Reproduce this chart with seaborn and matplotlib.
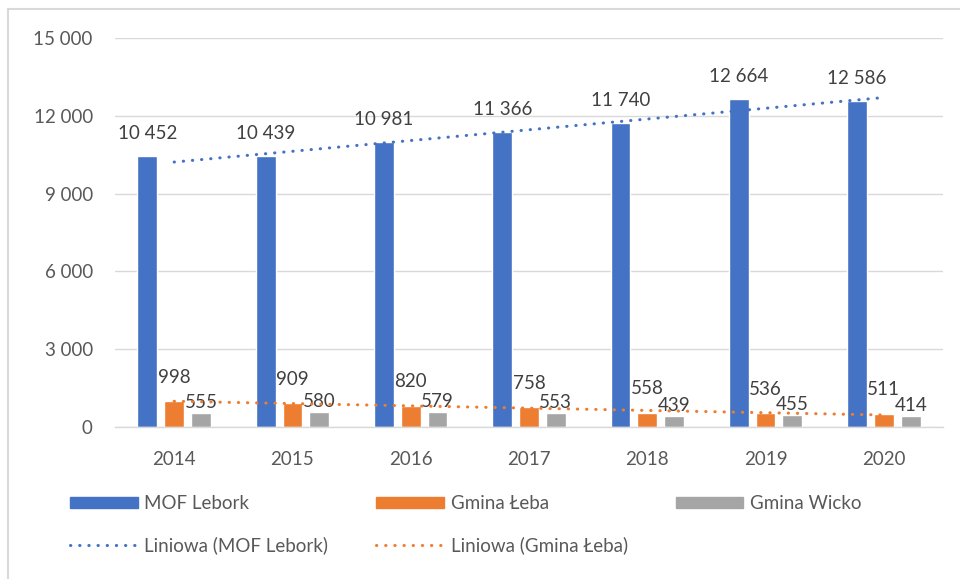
import numpy as np
import pandas as pd
import matplotlib
matplotlib.use("Agg")
import matplotlib.pyplot as plt
from matplotlib.lines import Line2D
from matplotlib.patches import Patch
import seaborn as sns

years = ["2014", "2015", "2016", "2017", "2018", "2019", "2020"]
mof_lebork = [10452, 10439, 10981, 11366, 11740, 12664, 12586]
gmina_leba = [998, 909, 820, 758, 558, 536, 511]
gmina_wicko = [555, 580, 579, 553, 439, 455, 414]
series_names = ["MOF Lebork", "Gmina Łeba", "Gmina Wicko"]
trend_names = ["Liniowa (MOF Lebork)", "Liniowa (Gmina Łeba)"]
y_ticks = [0, 3000, 6000, 9000, 12000, 15000]

colors = ["#4472C4", "#ED7D31", "#A5A5A5"]
text_col = "#595959"
label_col = "#404040"
grid_col = "#D9D9D9"
FS = 13.5

sns.set_theme(style="white")
plt.rcParams["font.family"] = ["Lato", "DejaVu Sans"]

df = pd.DataFrame({
    "year": years * 3,
    "value": mof_lebork + gmina_leba + gmina_wicko,
    "series": sum([[s] * len(years) for s in series_names], []),
})

fig = plt.figure(figsize=(9.6, 5.79), dpi=100)
ax = fig.add_axes([115 / 960, 1 - 427 / 579, (943 - 115) / 960, (427 - 38) / 579])

sns.barplot(data=df, x="year", y="value", hue="series", palette=colors,
            width=0.68, gap=0.26, ax=ax, legend=False, errorbar=None,
            saturation=1)

# data labels
pads = [10, 11, 1.5]
for cont, vals, pad in zip(ax.containers, [mof_lebork, gmina_leba, gmina_wicko], pads):
    ax.bar_label(cont, labels=[f"{v:,}".replace(",", " ") for v in vals],
                 padding=pad, fontsize=FS, color=label_col)

# trend lines (linear fit, as Excel trendline)
xs = np.arange(len(years))
dot = (0, (0.1, 2.9))
for vals, c in zip([mof_lebork, gmina_leba], colors[:2]):
    k, b = np.polyfit(xs, vals, 1)
    ax.plot(xs, k * xs + b, color=c, lw=2.2, linestyle=dot,
            dash_capstyle="round", zorder=5)

ax.set_ylim(0, 15000)
ax.set_xlim(-0.5, len(years) - 0.5)
ax.set_yticks(y_ticks)
ax.set_yticklabels([f"{v:,}".replace(",", " ") for v in y_ticks])
ax.tick_params(axis="both", length=0, labelsize=FS, labelcolor=text_col)
ax.tick_params(axis="y", pad=16)
ax.tick_params(axis="x", pad=17)
ax.set_xlabel("")
ax.set_ylabel("")
ax.grid(axis="y", color=grid_col, lw=1)
ax.set_axisbelow(True)
for s in ["top", "right", "left"]:
    ax.spines[s].set_visible(False)
ax.spines["bottom"].set_color(grid_col)
ax.spines["bottom"].set_linewidth(1)

handles = [
    Patch(color=colors[0], label=series_names[0]),
    Line2D([], [], color=colors[0], lw=2.2, linestyle=dot, dash_capstyle="round", label=trend_names[0]),
    Patch(color=colors[1], label=series_names[1]),
    Line2D([], [], color=colors[1], lw=2.2, linestyle=dot, dash_capstyle="round", label=trend_names[1]),
    Patch(color=colors[2], label=series_names[2]),
]
leg = fig.legend(handles=handles, ncol=3, loc="upper left",
                 bbox_to_anchor=(70 / 960, 1 - 495 / 579), frameon=False,
                 fontsize=FS, handlelength=3.6, handleheight=0.55,
                 handletextpad=0.37, labelspacing=1.3, columnspacing=2.55,
                 borderpad=0, borderaxespad=0)
for t in leg.get_texts():
    t.set_color(text_col)

# chart-area border (top and left visible)
fig.add_artist(Line2D([8 / 960, 1], [1 - 9 / 579, 1 - 9 / 579], color=grid_col, lw=1.5))
fig.add_artist(Line2D([8 / 960, 8 / 960], [0, 1 - 9 / 579], color=grid_col, lw=1.5))

fig.savefig("out.png", dpi=100, facecolor="white")
